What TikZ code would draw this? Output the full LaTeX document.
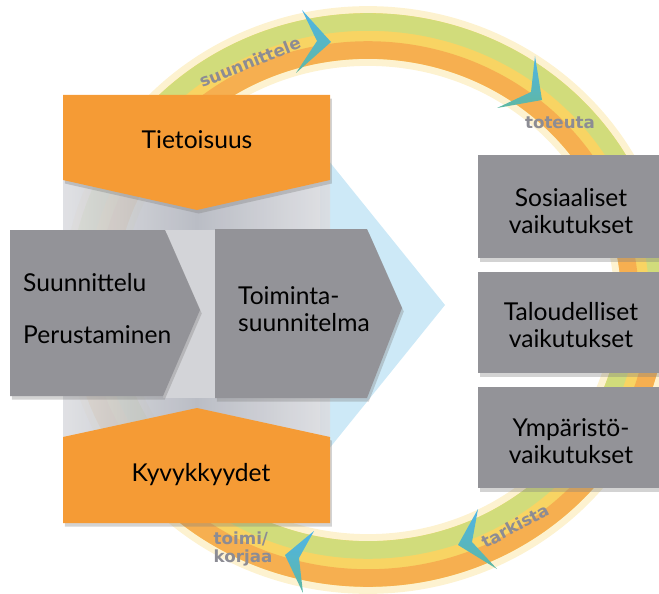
\documentclass[tikz,border=0pt]{standalone}
\usepackage{fontspec}
\setmainfont{Lato}
\newfontfamily\ringfont{DejaVu Sans}
\usetikzlibrary{shadows}

\definecolor{boxorange}{HTML}{F59B35}
\definecolor{boxgray}{HTML}{939398}
\definecolor{ringgreen}{HTML}{C8DE82}
\definecolor{ringyellow}{HTML}{F8D463}
\definecolor{ringorange}{HTML}{F6A64C}
\definecolor{arrowblue}{HTML}{4DB4E8}
\definecolor{arrowteal}{HTML}{60B8A2}
\definecolor{labelgray}{HTML}{8C8C94}
\definecolor{skyblue}{HTML}{CDE9F7}
\definecolor{panelside}{HTML}{DCDDE1}
\definecolor{panelmid}{HTML}{B3B6BF}
\definecolor{panelgap}{HTML}{D3D4D8}

\begin{document}
\begin{tikzpicture}[x=0.2mm, y=-0.2mm,
    orangebox/.style={fill=boxorange, drop shadow={opacity=0.35, shadow xshift=1pt, shadow yshift=-2pt}},
    graybox/.style={fill=boxgray, drop shadow={opacity=0.35, shadow xshift=1pt, shadow yshift=-2pt}},
    boxtext/.style={font=\fontsize{14}{15.5}\selectfont, text=black},
    ringlabel/.style={font=\ringfont\bfseries\fontsize{9.5}{10}\selectfont, text=labelgray, inner sep=0.5pt},
    ringarrow/.style={top color=arrowblue, bottom color=arrowteal}]
    \useasboundingbox (0,0) rectangle (659,594);

    % Cycle ring, upper half (green outside, orange inside)
    \draw[ringyellow, line width=34pt, opacity=0.3] (92,300) arc[start angle=180, end angle=360, x radius=276, y radius=264];
    \draw[ringyellow, line width=26pt] (92,300) arc[start angle=180, end angle=360, x radius=276, y radius=264];
    \draw[ringgreen, line width=10pt, opacity=0.8] (78,300) arc[start angle=180, end angle=360, x radius=290, y radius=278];
    \draw[ringorange, line width=10pt, opacity=0.8] (106,300) arc[start angle=180, end angle=360, x radius=262, y radius=250];

    % Cycle ring, lower half (orange outside, green inside)
    \draw[ringyellow, line width=34pt, opacity=0.3] (644,300) arc[start angle=0, end angle=180, x radius=276, y radius=264];
    \draw[ringyellow, line width=26pt] (644,300) arc[start angle=0, end angle=180, x radius=276, y radius=264];
    \draw[ringorange, line width=10pt, opacity=0.8] (658,300) arc[start angle=0, end angle=180, x radius=290, y radius=278];
    \draw[ringgreen, line width=10pt, opacity=0.8] (630,300) arc[start angle=0, end angle=180, x radius=262, y radius=250];

    % Chevrons on the ring (clockwise)
    \shade[ringarrow] (302,10) -- (331,42) -- (296,73) -- (317,41) -- cycle;
    \shade[ringarrow] (535,56) -- (542,100) -- (497,108) -- (531,92) -- cycle;
    \shade[ringarrow] (478,509) -- (458,545) -- (497,569) -- (472,542) -- cycle;
    \shade[ringarrow] (314,531) -- (285,555) -- (303,593) -- (299,558) -- cycle;

    % Ring labels
    \node[ringlabel, rotate=22] (suunnittele) at (250,62) {suunnittele};
    \node[ringlabel] (toteuta) at (560,123) {toteuta};
    \node[ringlabel, rotate=28] (tarkista) at (515,526) {tarkista};
    \node[ringlabel, align=left] (toimi) at (243,549) {toimi/\\korjaa};

    % Big light blue arrow behind the panel
    \fill[skyblue] (320,150) -- (445,305) -- (320,460) -- cycle;

    % Grey panel between the orange boxes
    \shade[left color=panelside, right color=panelside, middle color=panelmid, opacity=0.9] (63,180) rectangle (330,437);
    \fill[panelgap] (163,230) rectangle (215,398);

    % Orange boxes
    \fill[orangebox] (63,95) -- (330,95) -- (330,180) -- (197,210) -- (63,180) -- cycle;
    \node[boxtext] (tietoisuus) at (197,140) {Tietoisuus};
    \fill[orangebox] (63,437) -- (197,408) -- (330,437) -- (330,523) -- (63,523) -- cycle;
    \node[boxtext] (kyvykkyydet) at (201,475) {Kyvykkyydet};

    % Grey step arrows
    \fill[graybox] (10,230) -- (165,230) -- (200,310) -- (163,396) -- (10,396) -- cycle;
    \node[boxtext, anchor=west] (suunnittelu) at (17,283) {Suunnittelu};
    \node[boxtext, anchor=west] (perustaminen) at (17,335) {Perustaminen};
    \fill[graybox] (215,229) -- (367,229) -- (402,308) -- (367,398) -- (215,398) -- cycle;
    \node[boxtext, anchor=west, align=left] (toimintasuunnitelma) at (232,309) {Toiminta-\\suunnitelma};

    % Impacts
    \fill[graybox] (478,155) rectangle (665,258);
    \node[boxtext, align=center] (sosiaaliset) at (571,211) {Sosiaaliset\\vaikutukset};
    \fill[graybox] (478,272) rectangle (665,373);
    \node[boxtext, align=center] (taloudelliset) at (571,325) {Taloudelliset\\vaikutukset};
    \fill[graybox] (478,387) rectangle (665,488);
    \node[boxtext, align=center] (ymparisto) at (571,441) {Ympäristö-\\vaikutukset};
\end{tikzpicture}
\end{document}
